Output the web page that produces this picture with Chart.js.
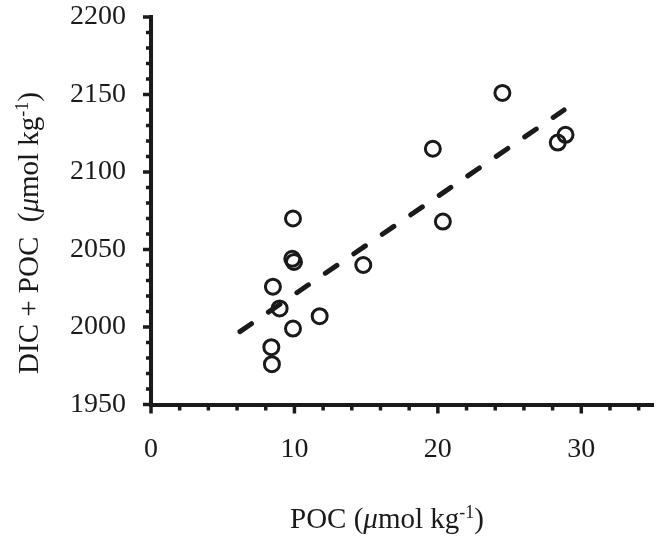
<!DOCTYPE html>
<html>
<head>
<meta charset="utf-8">
<script src="https://cdn.jsdelivr.net/npm/chart.js@4"></script>
<style>
  body { margin: 0; background: #fff; }
  #wrap { width: 664px; height: 537px; }
</style>
</head>
<body>
<div id="wrap"><canvas id="myChart" width="664" height="537"></canvas></div>
<script>
// measured points
var pocValues    = [9.9, 9.85, 9.97, 8.5, 8.97, 14.8, 11.76, 9.9, 8.39, 8.43, 24.5, 28.36, 28.9, 19.65, 20.35];
var dicPocValues = [2070, 2044, 2042, 2026, 2012, 2040, 2007, 1999, 1987, 1976, 2151, 2119, 2124, 2115, 2068];
// dashed regression line
var fitX = [6.2, 28.8];
var fitY = [1997, 2140];
var xTickLabels = [0, 10, 20, 30];
var yTickLabels = [1950, 2000, 2050, 2100, 2150, 2200];

var serif = '"Liberation Serif", "Times New Roman", serif';
var ink = '#1a1a1a';

function toPoints(xs, ys) {
  var out = [];
  for (var i = 0; i < xs.length; i++) out.push({x: xs[i], y: ys[i]});
  return out;
}

// writes a label made of pieces (normal / italic / superscript)
function drawPieces(ctx, pieces, cx, baseline) {
  var total = 0;
  pieces.forEach(function(p) {
    ctx.font = (p.italic ? 'italic ' : '') + (p.sup ? '18px ' : '29px ') + serif;
    p.w = ctx.measureText(p.t).width;
    total += p.w;
  });
  var x = cx - total / 2;
  pieces.forEach(function(p) {
    ctx.font = (p.italic ? 'italic ' : '') + (p.sup ? '18px ' : '29px ') + serif;
    ctx.fillText(p.t, x, baseline - (p.sup ? 10 : 0));
    x += p.w;
  });
}

var axisDecor = {
  id: 'axisDecor',
  afterDraw: function(chart) {
    var ctx = chart.ctx;
    var xs = chart.scales.x, ys = chart.scales.y;
    var left = chart.chartArea.left, bottom = chart.chartArea.bottom;
    ctx.save();
    ctx.strokeStyle = ink;
    ctx.lineWidth = 3.5;
    ctx.beginPath();
    for (var v = 1950; v <= 2200; v += 10) {
      var py = ys.getPixelForValue(v);
      ctx.moveTo(left - (v % 50 === 0 ? 8 : 5), py);
      ctx.lineTo(left, py);
    }
    for (var u = 0; u <= 34; u += 2) {
      var px = xs.getPixelForValue(u);
      ctx.moveTo(px, bottom);
      ctx.lineTo(px, bottom + (u % 10 === 0 ? 9 : 6));
    }
    ctx.stroke();

    ctx.fillStyle = ink;
    ctx.textAlign = 'left';
    ctx.textBaseline = 'alphabetic';
    drawPieces(ctx, [{t: 'POC ('}, {t: 'μ', italic: true}, {t: 'mol kg'}, {t: '-1', sup: true}, {t: ')'}], 387, 528);

    ctx.translate(38, 233);
    ctx.rotate(-Math.PI / 2);
    drawPieces(ctx, [{t: 'DIC + POC  ('}, {t: 'μ', italic: true}, {t: 'mol kg'}, {t: '-1', sup: true}, {t: ')'}], 0, 0);
    ctx.restore();
  }
};

var ctx = document.getElementById('myChart').getContext('2d');
var myChart = new Chart(ctx, {
  type: 'scatter',
  data: {
    datasets: [{
      label: 'fit',
      data: toPoints(fitX, fitY),
      showLine: true,
      borderColor: ink,
      borderWidth: 5,
      borderDash: [14, 20.5],
      borderCapStyle: 'round',
      pointRadius: 0,
      pointHoverRadius: 0
    }, {
      label: 'samples',
      data: toPoints(pocValues, dicPocValues),
      pointStyle: 'circle',
      pointRadius: 7.5,
      pointBorderWidth: 3,
      pointBorderColor: ink,
      pointBackgroundColor: 'rgba(0,0,0,0)',
      borderColor: ink,
      backgroundColor: 'rgba(0,0,0,0)'
    }]
  },
  plugins: [axisDecor],
  options: {
    responsive: false,
    animation: false,
    layout: { padding: { left: 0, right: 11, top: 17, bottom: 0 } },
    plugins: { legend: { display: false }, tooltip: { enabled: false } },
    scales: {
      x: {
        type: 'linear',
        min: 0, max: 35,
        afterFit: function(s) { s.height = 132.5; s.paddingLeft = 0; s.paddingRight = 0; },
        afterBuildTicks: function(s) {
          s.ticks = xTickLabels.map(function(v) { return {value: v}; });
        },
        grid: { display: false, drawTicks: false },
        border: { display: true, color: ink, width: 4 },
        ticks: {
          color: ink, padding: 28, maxRotation: 0, font: { family: serif, size: 28 },
          callback: function(v) { return String(v); }
        }
      },
      y: {
        type: 'linear',
        min: 1950, max: 2200,
        afterFit: function(s) { s.width = 151; s.paddingTop = 0; s.paddingBottom = 0; },
        afterBuildTicks: function(s) {
          s.ticks = yTickLabels.map(function(v) { return {value: v}; });
        },
        grid: { display: false, drawTicks: false },
        border: { display: true, color: ink, width: 4 },
        ticks: {
          color: ink, padding: 25, font: { family: serif, size: 28 },
          callback: function(v) { return String(v); }
        }
      }
    }
  }
});
</script>
</body>
</html>
